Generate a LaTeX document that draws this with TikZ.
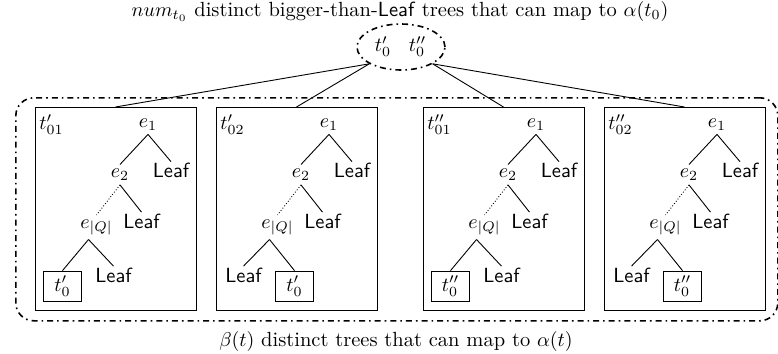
\documentclass[tikz,border=0pt]{standalone}
\usetikzlibrary{shapes.geometric}
\tikzset{
  enode/.style={inner sep=2pt, anchor=base},
  leafnode/.style={inner sep=0.5pt, anchor=base, font=\fontsize{10.25}{12.3}\selectfont\sffamily},
  tzbox/.style={draw, minimum width=19pt, minimum height=15pt, inner sep=0pt},
  treebox/.style={draw, anchor=north west, minimum width=80.5pt, minimum height=101.5pt, inner sep=0pt, outer sep=0pt},
  dashdotline/.style={thick, dash dot},
  treeline/.style={line width=0.45pt}
}
\newcommand\treetop[3]{%
  \node[treebox] (#1box) at (#2,107) {};
  \node[anchor=base west, inner sep=0pt] (#1lab) at (#2+4,129.5) {#3};
  \node[enode] (#1e1) at (#2+113,127) {$e_1$};
  \node[enode] (#1e2) at (#2+85,177.5) {$e_2$};
  \node[leafnode] (#1la) at (#2+136,177.5) {Leaf};
  \node[enode] (#1eq) at (#2+61.5,228) {$e_{|Q|}$};
  \node[leafnode] (#1lb) at (#2+106.5,228) {Leaf};
  \draw[treeline] (#1e1.south) -- (#1e2.north);
  \draw[treeline] (#1e1.south) -- (#1la.north);
  \draw[treeline, densely dotted] (#1e2.south) -- (#1eq.north);
  \draw[treeline] (#1e2.south) -- (#1lb.north);
}
\newcommand\treebottomA[3]{%
  \node[tzbox] (#1l) at (#2+27.5,286) {#3};
  \node[leafnode] (#1r) at (#2+78.5,282) {Leaf};
  \draw[treeline] ([xshift=-4pt]#1eq.south) -- (#1l.north);
  \draw[treeline] ([xshift=-4pt]#1eq.south) -- (#1r.north);
}
\newcommand\treebottomB[3]{%
  \node[leafnode] (#1l) at (#2+27.5,282) {Leaf};
  \node[tzbox] (#1r) at (#2+78.5,286) {#3};
  \draw[treeline] ([xshift=-4pt]#1eq.south) -- (#1l.north);
  \draw[treeline] ([xshift=-4pt]#1eq.south) -- (#1r.north);
}
\begin{document}
\begin{tikzpicture}[x=0.5pt, y=-0.5pt, font=\fontsize{10.25}{12.3}\selectfont]
  \useasboundingbox (0,0) rectangle (778,354);
  % title
  \node[anchor=base, inner sep=0pt] (title) at (400,16)
    {$num_{t_0}$ distinct bigger-than-\textsf{Leaf} trees that can map to $\alpha(t_0)$};
  % ellipse with t0' and t0''
  \node[draw, dashdotline, ellipse, minimum width=44pt, minimum height=23pt, inner sep=0pt] (top) at (401,47) {};
  \node[anchor=base, inner sep=0pt] (tp) at (383,51.5) {$t'_0$};
  \node[anchor=base, inner sep=0pt] (tpp) at (417.5,51.5) {$t''_0$};
  % outer rounded box
  \node[draw, dashdotline, rounded corners=9pt, anchor=north west, minimum width=381pt, minimum height=111.5pt, inner sep=0pt] (outer) at (15,97) {};
  % trees
  \treetop{a}{35}{$t'_{01}$}
  \treebottomA{a}{35}{$t'_0$}
  \treetop{b}{216}{$t'_{02}$}
  \treebottomB{b}{216}{$t'_0$}
  \treetop{c}{423}{$t''_{01}$}
  \treebottomA{c}{423}{$t''_0$}
  \treetop{d}{604}{$t''_{02}$}
  \treebottomB{d}{604}{$t''_0$}
  % connectors from ellipse to boxes
  \draw[treeline] (top.south west) -- (abox.north);
  \draw[treeline] (top.south west) -- (bbox.north);
  \draw[treeline] (top.south east) -- (cbox.north);
  \draw[treeline] (top.south east) -- (dbox.north);
  % bottom caption
  \node[anchor=base, inner sep=0pt] (caption) at (396,346)
    {$\beta(t)$ distinct trees that can map to $\alpha(t)$};
\end{tikzpicture}
\end{document}
